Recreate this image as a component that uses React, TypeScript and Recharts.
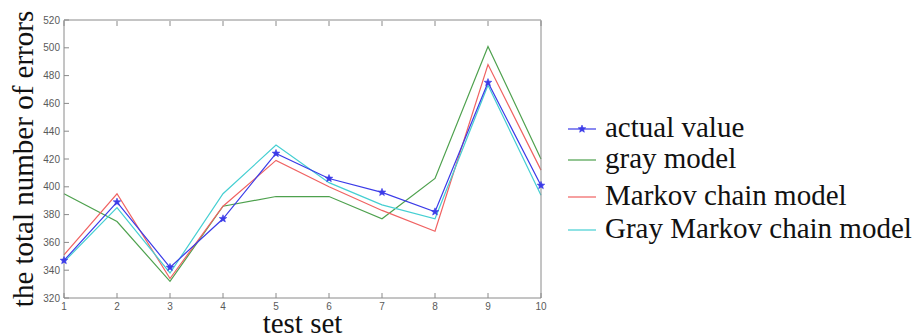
import React from 'react'
import { LineChart, Line, XAxis, YAxis, Legend } from 'recharts'

const testSet = [1, 2, 3, 4, 5, 6, 7, 8, 9, 10]
const actualValue = [347, 389, 342, 377, 424, 406, 396, 382, 475, 401]
const grayModel = [395, 375, 332, 386, 393, 393, 377, 406, 501, 420]
const markovModel = [351, 395, 334, 386, 419, 400, 383, 368, 488, 412]
const grayMarkovModel = [346, 385, 338, 395, 430, 403, 387, 377, 473, 394]
const yTicks = [320, 340, 360, 380, 400, 420, 440, 460, 480, 500, 520]

const seriesNames = ['actual value', 'gray model', 'Markov chain model', 'Gray Markov chain model']
const seriesColors = ['#3b3be8', '#4ea14e', '#f06262', '#45cfd2']

const data = testSet.map((t, i) => ({
  t,
  actual: actualValue[i],
  gray: grayModel[i],
  markov: markovModel[i],
  grayMarkov: grayMarkovModel[i],
}))

const AXIS = '#8a8a8a'
const SERIF = '"Times New Roman", "Liberation Serif", serif'
const tickFont = { fontSize: 10, fill: '#5a5a5a', fontFamily: 'Arial, "Liberation Sans", sans-serif' }

const LeftTick = (p: any) => (
  <g>
    <line x1={p.x + 4} y1={p.y} x2={p.x + 9} y2={p.y} stroke={AXIS} />
    <text x={p.x} y={p.y} dy={3.5} textAnchor="end" {...tickFont}>{p.payload.value}</text>
  </g>
)

const BottomTick = (p: any) => (
  <g>
    <line x1={p.x} y1={p.y - 3} x2={p.x} y2={p.y - 8} stroke={AXIS} />
    <text x={p.x} y={p.y} dy={9} textAnchor="middle" {...tickFont}>{p.payload.value}</text>
  </g>
)

// top / right frame: tick marks only, pointing into the plot
const TopTick = (p: any) => <line x1={p.x} y1={p.y + 1} x2={p.x} y2={p.y + 6} stroke={AXIS} />
const RightTick = (p: any) => <line x1={p.x - 1} y1={p.y} x2={p.x - 6} y2={p.y} stroke={AXIS} />

const StarDot = (p: any) => {
  const { cx, cy, index } = p
  const pts: string[] = []
  for (let k = 0; k < 10; k++) {
    const r = k % 2 === 0 ? 4 : 1.7
    const a = -Math.PI / 2 + (k * Math.PI) / 5
    pts.push(`${cx + r * Math.cos(a)},${cy + r * Math.sin(a)}`)
  }
  return <polygon key={index} points={pts.join(' ')} fill={seriesColors[0]} stroke={seriesColors[0]} strokeWidth={0.6} />
}

const rowTops = [37, 68, 105, 138]

const renderLegend = () => (
  <svg width={356} height={160}>
    {seriesNames.map((name, i) => (
      <g key={name}>
        <line x1={4} x2={32} y1={rowTops[i]} y2={rowTops[i]} stroke={seriesColors[i]} strokeWidth={1.2} />
        {i === 0 && <StarDot cx={18} cy={rowTops[i]} index={0} />}
        <text x={41} y={rowTops[i]} dy={8} fontSize={29} fontFamily={SERIF} fill="#111">{name}</text>
      </g>
    ))}
  </svg>
)

export default function App() {
  return (
    <div style={{ position: 'absolute', left: 0, top: 0, background: '#fff' }}>
      <LineChart width={920} height={334} data={data} margin={{ top: 19, right: 378, bottom: 0, left: 0 }}>
        <XAxis
          dataKey="t"
          type="number"
          domain={[1, 10]}
          ticks={testSet}
          height={36}
          tickSize={0}
          tickMargin={3}
          tick={<BottomTick />}
          axisLine={{ stroke: AXIS }}
          label={{ value: 'test set', position: 'insideBottom', offset: 1, fontSize: 29, fontFamily: SERIF, fill: '#111' }}
        />
        <XAxis
          xAxisId="top"
          orientation="top"
          dataKey="t"
          type="number"
          domain={[1, 10]}
          ticks={testSet}
          height={1}
          tickSize={0}
          tickMargin={0}
          tick={<TopTick />}
          axisLine={{ stroke: AXIS }}
        />
        <YAxis
          type="number"
          domain={[320, 520]}
          ticks={yTicks}
          width={64}
          tickSize={0}
          tickMargin={4}
          tick={<LeftTick />}
          axisLine={{ stroke: AXIS }}
          label={{
            value: 'the total number of errors',
            angle: -90,
            position: 'insideLeft',
            offset: 23,
            fontSize: 29,
            fontFamily: SERIF,
            fill: '#111',
            style: { textAnchor: 'middle' },
          }}
        />
        <YAxis
          yAxisId="right"
          orientation="right"
          type="number"
          domain={[320, 520]}
          ticks={yTicks}
          width={1}
          tickSize={0}
          tickMargin={0}
          tick={<RightTick />}
          axisLine={{ stroke: AXIS }}
        />
        <Legend
          layout="vertical"
          align="center"
          verticalAlign="middle"
          content={renderLegend}
          wrapperStyle={{ position: 'absolute', left: 564, top: 92, width: 356 }}
        />
        <Line dataKey="gray" stroke={seriesColors[1]} strokeWidth={1.2} dot={false} isAnimationActive={false} />
        <Line dataKey="markov" stroke={seriesColors[2]} strokeWidth={1.2} dot={false} isAnimationActive={false} />
        <Line dataKey="grayMarkov" stroke={seriesColors[3]} strokeWidth={1.2} dot={false} isAnimationActive={false} />
        <Line dataKey="actual" stroke={seriesColors[0]} strokeWidth={1.2} dot={<StarDot />} isAnimationActive={false} />
      </LineChart>
    </div>
  )
}
